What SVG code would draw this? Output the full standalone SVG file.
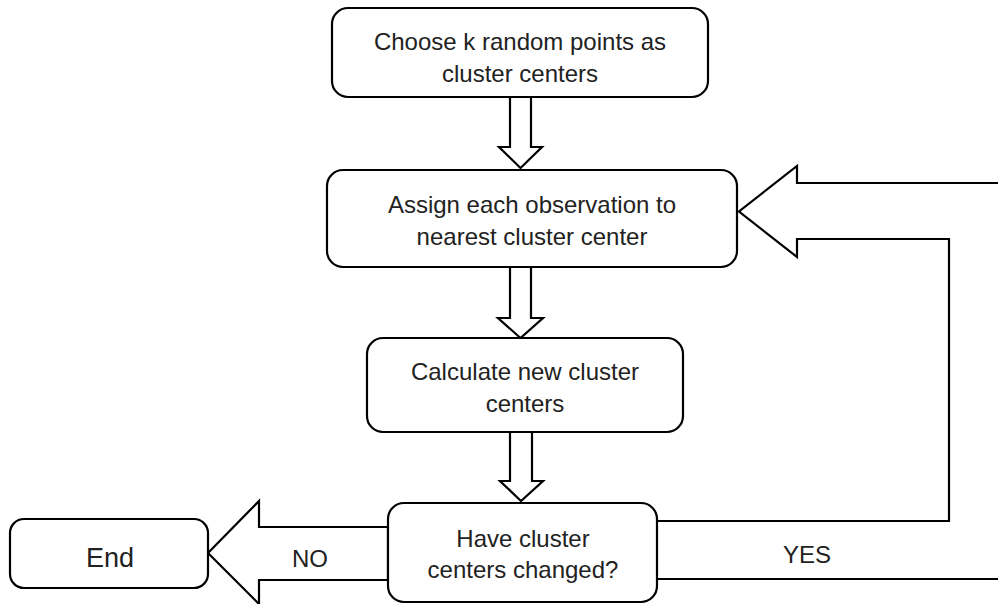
<svg xmlns="http://www.w3.org/2000/svg" width="998" height="604" viewBox="0 0 998 604">
<style>
.box{fill:#fff;stroke:#000;stroke-width:2.2}
.arr{fill:#fff;stroke:#000;stroke-width:2.2;stroke-linejoin:miter}
.line{fill:none;stroke:#000;stroke-width:2.2}
text{font-family:"Liberation Sans",Arial,sans-serif;font-size:24px;fill:#222;text-anchor:middle}
</style>
<rect width="998" height="604" fill="#fff"/>
<g id="connectors">
<polygon class="arr" points="510,97 531,97 531,147 542,147 520.5,168 499,147 510,147"/>
<polygon class="arr" points="510,267 531,267 531,318 543,318 520.5,338 498,318 510,318"/>
<polygon class="arr" points="510,432 532,432 532,481 543,481 521,501 500,481 510,481"/>
<polygon class="arr" points="388,527 259,527 259,501 208,553 259,604 259,580 388,580"/>
<path class="arr" d="M998,183 L797,183 L797,166 L739,211.5 L797,257 L797,239 L949,239 L949,521 L657,521"/>
<path class="line" d="M657,579 L998,579"/>
<text x="310" y="567">NO</text>
<text x="807" y="563">YES</text>
</g>
<g id="n1">
<rect class="box" x="332" y="8" width="376" height="89" rx="16"/>
<text x="520" y="50">Choose k random points as</text>
<text x="520" y="82">cluster centers</text>
</g>
<g id="n2">
<rect class="box" x="327" y="170" width="410" height="97" rx="16"/>
<text x="532" y="213">Assign each observation to</text>
<text x="532" y="245">nearest cluster center</text>
</g>
<g id="n3">
<rect class="box" x="367" y="338" width="316" height="94" rx="16"/>
<text x="525" y="380">Calculate new cluster</text>
<text x="525" y="412">centers</text>
</g>
<g id="n4">
<rect class="box" x="388" y="503" width="269" height="99" rx="16"/>
<text x="523" y="547">Have cluster</text>
<text x="523" y="578">centers changed?</text>
</g>
<g id="end">
<rect class="box" x="10" y="519" width="198" height="69" rx="14"/>
<text x="110" y="567" style="font-size:27px">End</text>
</g>
</svg>
